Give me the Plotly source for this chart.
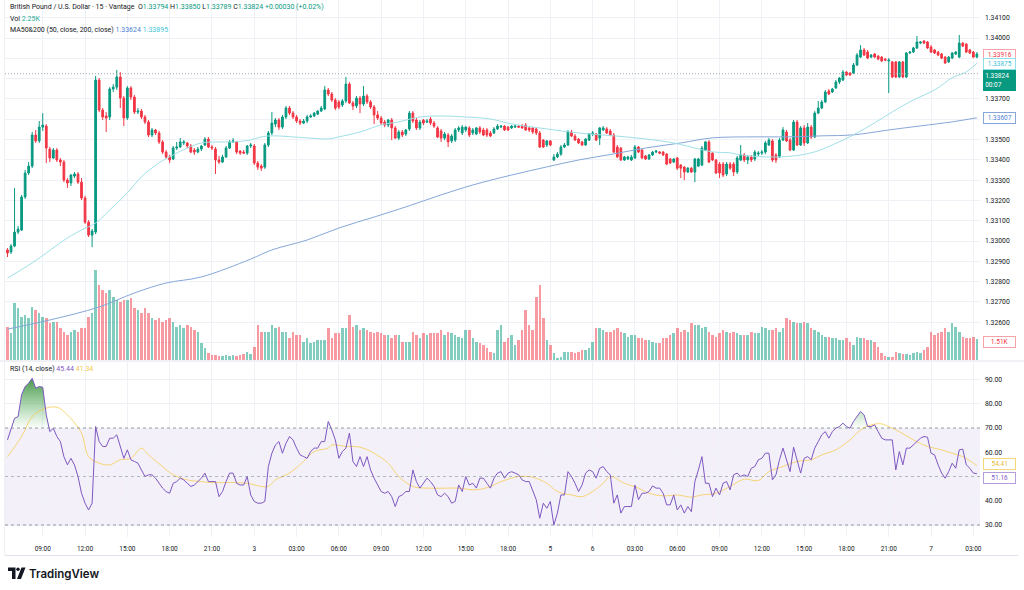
import plotly.graph_objects as go

# ---------------- data ----------------
tick_index = [10, 22, 34, 46, 58, 70, 82, 94, 106, 118, 130, 142, 154, 166, 178, 190, 202, 214, 226, 238, 250, 262, 274]
tick_labels = ["09:00", "12:00", "15:00", "18:00", "21:00", "3", "03:00", "06:00", "09:00", "12:00", "15:00",
               "18:00", "5", "6", "03:00", "06:00", "09:00", "12:00", "15:00", "18:00", "21:00", "7", "03:00"]
price_ticks = [1.325, 1.326, 1.327, 1.328, 1.329, 1.330, 1.331, 1.332, 1.333, 1.334, 1.335, 1.336, 1.337, 1.338, 1.339, 1.340, 1.341]
price_tick_text = ["", "1.32600", "1.32700", "1.32800", "1.32900", "1.33000", "1.33100", "1.33200", "1.33300",
                   "1.33400", "1.33500", "", "1.33700", "", "", "1.34000", "1.34100"]
rsi_ticks = [30, 40, 50, 60, 70, 80, 90]
rsi_tick_text = ["30.00", "40.00", "", "60.00", "70.00", "80.00", "90.00"]

opens = [
 1.32956, 1.32946, 1.32975, 1.33044, 1.33054, 1.33217, 1.33335, 1.33369, 1.33522, 1.33493,
 1.33561, 1.33566, 1.33453, 1.33409, 1.33448, 1.33399, 1.33389, 1.33300, 1.33286, 1.33320,
 1.33330, 1.33290, 1.33212, 1.33093, 1.33029, 1.33044, 1.33793, 1.33645, 1.33616, 1.33611,
 1.33749, 1.33758, 1.33808, 1.33704, 1.33606, 1.33754, 1.33709, 1.33635, 1.33640, 1.33611,
 1.33586, 1.33522, 1.33547, 1.33532, 1.33488, 1.33438, 1.33414, 1.33404, 1.33458, 1.33463,
 1.33483, 1.33483, 1.33468, 1.33448, 1.33438, 1.33453, 1.33473, 1.33502, 1.33463, 1.33453,
 1.33399, 1.33389, 1.33414, 1.33458, 1.33488, 1.33488, 1.33443, 1.33438, 1.33433, 1.33468,
 1.33468, 1.33384, 1.33369, 1.33364, 1.33473, 1.33532, 1.33576, 1.33596, 1.33561, 1.33611,
 1.33655, 1.33630, 1.33611, 1.33591, 1.33581, 1.33591, 1.33611, 1.33616, 1.33625, 1.33640,
 1.33650, 1.33744, 1.33724, 1.33694, 1.33685, 1.33670, 1.33690, 1.33773, 1.33680, 1.33665,
 1.33704, 1.33675, 1.33714, 1.33685, 1.33660, 1.33621, 1.33606, 1.33586, 1.33571, 1.33596,
 1.33557, 1.33507, 1.33537, 1.33527, 1.33552, 1.33630, 1.33596, 1.33557, 1.33596, 1.33586,
 1.33601, 1.33581, 1.33557, 1.33542, 1.33507, 1.33522, 1.33493, 1.33497, 1.33547, 1.33532,
 1.33547, 1.33557, 1.33532, 1.33527, 1.33557, 1.33547, 1.33547, 1.33532, 1.33532, 1.33552,
 1.33561, 1.33566, 1.33561, 1.33557, 1.33561, 1.33566, 1.33566, 1.33571, 1.33557, 1.33557,
 1.33552, 1.33532, 1.33497, 1.33473, 1.33493, 1.33399, 1.33414, 1.33428, 1.33463, 1.33473,
 1.33537, 1.33517, 1.33502, 1.33488, 1.33473, 1.33497, 1.33527, 1.33527, 1.33507, 1.33547,
 1.33552, 1.33542, 1.33522, 1.33463, 1.33458, 1.33399, 1.33404, 1.33399, 1.33409, 1.33463,
 1.33448, 1.33419, 1.33404, 1.33424, 1.33438, 1.33438, 1.33438, 1.33428, 1.33404, 1.33389,
 1.33409, 1.33374, 1.33364, 1.33340, 1.33359, 1.33340, 1.33369, 1.33374, 1.33448, 1.33488,
 1.33433, 1.33399, 1.33379, 1.33379, 1.33330, 1.33379, 1.33379, 1.33340, 1.33399, 1.33424,
 1.33399, 1.33414, 1.33404, 1.33428, 1.33433, 1.33438, 1.33473, 1.33493, 1.33424, 1.33414,
 1.33497, 1.33537, 1.33497, 1.33448, 1.33586, 1.33473, 1.33557, 1.33483, 1.33561, 1.33512,
 1.33630, 1.33655, 1.33685, 1.33739, 1.33734, 1.33754, 1.33783, 1.33793, 1.33832, 1.33827,
 1.33827, 1.33867, 1.33906, 1.33941, 1.33931, 1.33906, 1.33921, 1.33911, 1.33906, 1.33896,
 1.33887, 1.33882, 1.33882, 1.33808, 1.33882, 1.33808, 1.33926, 1.33931, 1.33951, 1.33975,
 1.33985, 1.33980, 1.33956, 1.33941, 1.33931, 1.33921, 1.33906, 1.33882, 1.33901, 1.33921,
 1.33906, 1.33975, 1.33970, 1.33941, 1.33931, 1.33906]

highs = [
 1.32965, 1.32985, 1.33261, 1.33074, 1.33227, 1.33350, 1.33389, 1.33537, 1.33547, 1.33591,
 1.33630, 1.33576, 1.33463, 1.33458, 1.33458, 1.33409, 1.33399, 1.33310, 1.33330, 1.33340,
 1.33340, 1.33310, 1.33222, 1.33103, 1.33059, 1.33813, 1.33803, 1.33655, 1.33635, 1.33758,
 1.33773, 1.33842, 1.33832, 1.33714, 1.33763, 1.33763, 1.33719, 1.33655, 1.33650, 1.33621,
 1.33596, 1.33557, 1.33552, 1.33542, 1.33497, 1.33448, 1.33424, 1.33468, 1.33488, 1.33507,
 1.33497, 1.33488, 1.33478, 1.33458, 1.33463, 1.33473, 1.33512, 1.33512, 1.33473, 1.33463,
 1.33419, 1.33424, 1.33468, 1.33497, 1.33507, 1.33493, 1.33448, 1.33448, 1.33473, 1.33483,
 1.33478, 1.33394, 1.33379, 1.33483, 1.33542, 1.33635, 1.33606, 1.33606, 1.33621, 1.33665,
 1.33665, 1.33640, 1.33621, 1.33601, 1.33601, 1.33621, 1.33625, 1.33635, 1.33645, 1.33665,
 1.33763, 1.33754, 1.33734, 1.33704, 1.33694, 1.33699, 1.33808, 1.33783, 1.33690, 1.33714,
 1.33714, 1.33763, 1.33724, 1.33694, 1.33670, 1.33640, 1.33616, 1.33596, 1.33601, 1.33606,
 1.33566, 1.33547, 1.33547, 1.33552, 1.33640, 1.33640, 1.33606, 1.33596, 1.33601, 1.33601,
 1.33611, 1.33591, 1.33566, 1.33552, 1.33537, 1.33532, 1.33527, 1.33557, 1.33566, 1.33571,
 1.33566, 1.33566, 1.33557, 1.33561, 1.33566, 1.33557, 1.33557, 1.33542, 1.33561, 1.33576,
 1.33571, 1.33571, 1.33566, 1.33571, 1.33571, 1.33571, 1.33576, 1.33581, 1.33561, 1.33561,
 1.33557, 1.33542, 1.33502, 1.33497, 1.33497, 1.33428, 1.33438, 1.33473, 1.33483, 1.33547,
 1.33547, 1.33527, 1.33507, 1.33493, 1.33507, 1.33532, 1.33542, 1.33532, 1.33561, 1.33566,
 1.33561, 1.33552, 1.33532, 1.33473, 1.33463, 1.33419, 1.33419, 1.33424, 1.33473, 1.33468,
 1.33453, 1.33424, 1.33428, 1.33443, 1.33448, 1.33443, 1.33443, 1.33433, 1.33409, 1.33409,
 1.33414, 1.33379, 1.33369, 1.33364, 1.33364, 1.33409, 1.33409, 1.33468, 1.33493, 1.33497,
 1.33438, 1.33404, 1.33389, 1.33389, 1.33389, 1.33389, 1.33389, 1.33419, 1.33473, 1.33433,
 1.33424, 1.33424, 1.33448, 1.33443, 1.33448, 1.33493, 1.33507, 1.33502, 1.33433, 1.33507,
 1.33561, 1.33547, 1.33507, 1.33596, 1.33596, 1.33566, 1.33571, 1.33581, 1.33571, 1.33640,
 1.33690, 1.33694, 1.33744, 1.33749, 1.33754, 1.33793, 1.33808, 1.33842, 1.33837, 1.33832,
 1.33877, 1.33926, 1.33965, 1.33951, 1.33941, 1.33921, 1.33926, 1.33916, 1.33911, 1.33901,
 1.33901, 1.33887, 1.33887, 1.33887, 1.33887, 1.33931, 1.33936, 1.33956, 1.34010, 1.33985,
 1.33990, 1.33985, 1.33965, 1.33946, 1.33936, 1.33926, 1.33911, 1.33911, 1.33931, 1.33936,
 1.34015, 1.33980, 1.33975, 1.33946, 1.33936, 1.33931]

lows = [
 1.32921, 1.32936, 1.32970, 1.33034, 1.33049, 1.33207, 1.33325, 1.33359, 1.33483, 1.33483,
 1.33542, 1.33384, 1.33389, 1.33404, 1.33389, 1.33369, 1.33290, 1.33261, 1.33271, 1.33310,
 1.33281, 1.33202, 1.33084, 1.33020, 1.32970, 1.33034, 1.33635, 1.33596, 1.33537, 1.33596,
 1.33734, 1.33744, 1.33655, 1.33566, 1.33596, 1.33694, 1.33625, 1.33625, 1.33601, 1.33576,
 1.33512, 1.33512, 1.33522, 1.33478, 1.33428, 1.33404, 1.33384, 1.33399, 1.33448, 1.33458,
 1.33473, 1.33458, 1.33433, 1.33424, 1.33433, 1.33443, 1.33468, 1.33458, 1.33448, 1.33330,
 1.33379, 1.33384, 1.33409, 1.33453, 1.33483, 1.33428, 1.33424, 1.33428, 1.33424, 1.33458,
 1.33374, 1.33350, 1.33345, 1.33355, 1.33463, 1.33522, 1.33561, 1.33547, 1.33552, 1.33601,
 1.33621, 1.33601, 1.33581, 1.33571, 1.33576, 1.33581, 1.33606, 1.33611, 1.33621, 1.33635,
 1.33645, 1.33714, 1.33685, 1.33645, 1.33650, 1.33660, 1.33680, 1.33675, 1.33645, 1.33655,
 1.33630, 1.33665, 1.33675, 1.33650, 1.33576, 1.33596, 1.33571, 1.33561, 1.33561, 1.33497,
 1.33502, 1.33497, 1.33512, 1.33517, 1.33542, 1.33581, 1.33547, 1.33547, 1.33571, 1.33581,
 1.33571, 1.33557, 1.33507, 1.33488, 1.33497, 1.33463, 1.33483, 1.33488, 1.33537, 1.33522,
 1.33537, 1.33512, 1.33522, 1.33522, 1.33527, 1.33517, 1.33512, 1.33512, 1.33527, 1.33547,
 1.33557, 1.33542, 1.33542, 1.33552, 1.33557, 1.33557, 1.33552, 1.33542, 1.33537, 1.33527,
 1.33522, 1.33458, 1.33458, 1.33463, 1.33468, 1.33394, 1.33409, 1.33419, 1.33458, 1.33468,
 1.33512, 1.33493, 1.33478, 1.33468, 1.33468, 1.33493, 1.33517, 1.33493, 1.33473, 1.33542,
 1.33527, 1.33517, 1.33433, 1.33409, 1.33394, 1.33394, 1.33399, 1.33394, 1.33404, 1.33433,
 1.33404, 1.33399, 1.33399, 1.33419, 1.33433, 1.33428, 1.33419, 1.33374, 1.33379, 1.33384,
 1.33350, 1.33310, 1.33300, 1.33335, 1.33335, 1.33290, 1.33364, 1.33369, 1.33443, 1.33384,
 1.33394, 1.33330, 1.33310, 1.33315, 1.33320, 1.33350, 1.33320, 1.33330, 1.33394, 1.33389,
 1.33379, 1.33389, 1.33394, 1.33419, 1.33424, 1.33428, 1.33468, 1.33389, 1.33384, 1.33409,
 1.33493, 1.33488, 1.33443, 1.33443, 1.33468, 1.33468, 1.33468, 1.33478, 1.33502, 1.33507,
 1.33625, 1.33650, 1.33680, 1.33719, 1.33729, 1.33749, 1.33773, 1.33788, 1.33813, 1.33813,
 1.33823, 1.33862, 1.33901, 1.33911, 1.33896, 1.33901, 1.33901, 1.33891, 1.33882, 1.33887,
 1.33729, 1.33803, 1.33803, 1.33803, 1.33803, 1.33803, 1.33921, 1.33926, 1.33946, 1.33970,
 1.33970, 1.33946, 1.33926, 1.33921, 1.33911, 1.33896, 1.33872, 1.33877, 1.33896, 1.33916,
 1.33901, 1.33956, 1.33926, 1.33921, 1.33901, 1.33901]

closes = [
 1.32941, 1.32975, 1.33044, 1.33059, 1.33217, 1.33335, 1.33369, 1.33522, 1.33493, 1.33561,
 1.33571, 1.33458, 1.33409, 1.33448, 1.33399, 1.33389, 1.33300, 1.33286, 1.33325, 1.33330,
 1.33290, 1.33212, 1.33093, 1.33029, 1.33049, 1.33793, 1.33645, 1.33611, 1.33606, 1.33749,
 1.33758, 1.33808, 1.33704, 1.33606, 1.33754, 1.33709, 1.33635, 1.33640, 1.33611, 1.33586,
 1.33522, 1.33547, 1.33532, 1.33488, 1.33438, 1.33414, 1.33399, 1.33458, 1.33463, 1.33488,
 1.33488, 1.33468, 1.33438, 1.33438, 1.33453, 1.33468, 1.33502, 1.33463, 1.33458, 1.33399,
 1.33389, 1.33414, 1.33458, 1.33488, 1.33493, 1.33438, 1.33433, 1.33433, 1.33468, 1.33473,
 1.33384, 1.33364, 1.33359, 1.33473, 1.33532, 1.33581, 1.33596, 1.33561, 1.33611, 1.33655,
 1.33630, 1.33611, 1.33591, 1.33581, 1.33591, 1.33611, 1.33616, 1.33630, 1.33640, 1.33655,
 1.33744, 1.33724, 1.33694, 1.33655, 1.33660, 1.33690, 1.33773, 1.33680, 1.33665, 1.33704,
 1.33675, 1.33714, 1.33685, 1.33660, 1.33621, 1.33606, 1.33581, 1.33571, 1.33596, 1.33557,
 1.33507, 1.33537, 1.33522, 1.33547, 1.33630, 1.33591, 1.33557, 1.33586, 1.33581, 1.33591,
 1.33581, 1.33566, 1.33512, 1.33507, 1.33527, 1.33488, 1.33517, 1.33547, 1.33557, 1.33561,
 1.33561, 1.33522, 1.33547, 1.33557, 1.33537, 1.33522, 1.33522, 1.33517, 1.33552, 1.33566,
 1.33566, 1.33547, 1.33547, 1.33566, 1.33566, 1.33561, 1.33557, 1.33547, 1.33547, 1.33537,
 1.33532, 1.33463, 1.33463, 1.33493, 1.33473, 1.33414, 1.33428, 1.33463, 1.33473, 1.33537,
 1.33517, 1.33497, 1.33483, 1.33473, 1.33502, 1.33527, 1.33532, 1.33497, 1.33557, 1.33557,
 1.33532, 1.33522, 1.33438, 1.33414, 1.33399, 1.33414, 1.33414, 1.33414, 1.33463, 1.33438,
 1.33409, 1.33404, 1.33424, 1.33438, 1.33443, 1.33433, 1.33424, 1.33379, 1.33384, 1.33404,
 1.33359, 1.33359, 1.33340, 1.33359, 1.33340, 1.33404, 1.33404, 1.33458, 1.33488, 1.33389,
 1.33399, 1.33335, 1.33335, 1.33325, 1.33379, 1.33359, 1.33340, 1.33409, 1.33424, 1.33399,
 1.33414, 1.33399, 1.33438, 1.33433, 1.33438, 1.33483, 1.33497, 1.33399, 1.33399, 1.33497,
 1.33547, 1.33493, 1.33448, 1.33586, 1.33473, 1.33557, 1.33483, 1.33561, 1.33512, 1.33630,
 1.33655, 1.33685, 1.33734, 1.33724, 1.33749, 1.33783, 1.33803, 1.33832, 1.33818, 1.33818,
 1.33867, 1.33916, 1.33941, 1.33916, 1.33901, 1.33916, 1.33906, 1.33896, 1.33887, 1.33891,
 1.33891, 1.33808, 1.33808, 1.33882, 1.33808, 1.33926, 1.33931, 1.33951, 1.33980, 1.33980,
 1.33975, 1.33951, 1.33931, 1.33926, 1.33916, 1.33901, 1.33877, 1.33906, 1.33926, 1.33931,
 1.33975, 1.33960, 1.33931, 1.33926, 1.33906, 1.33921]

volume_k = [
 2.36, 1.93, 4.07, 3.71, 3.07, 3.21, 3.00, 3.79, 3.57, 3.36,
 3.07, 3.00, 2.64, 2.71, 2.71, 2.29, 2.00, 1.79, 2.00, 2.14,
 2.00, 2.29, 2.29, 3.07, 3.36, 6.43, 5.36, 5.00, 4.79, 5.00,
 4.50, 4.29, 4.14, 4.29, 4.29, 4.43, 3.71, 3.57, 3.36, 3.71,
 3.36, 3.00, 2.86, 3.00, 2.71, 2.86, 3.00, 2.71, 2.36, 2.50,
 2.29, 2.50, 2.36, 2.14, 2.00, 1.21, 0.86, 0.50, 0.36, 0.36,
 0.29, 0.29, 0.36, 0.29, 0.36, 0.29, 0.36, 0.43, 0.57, 0.43,
 0.93, 2.50, 2.00, 2.00, 2.00, 2.50, 2.29, 2.36, 2.00, 2.00,
 1.57, 2.00, 1.79, 1.79, 1.29, 1.57, 1.21, 1.29, 1.43, 1.43,
 1.43, 2.29, 1.57, 1.93, 1.93, 2.29, 2.29, 3.21, 2.36, 2.50,
 2.14, 2.29, 2.14, 2.00, 1.93, 2.00, 1.93, 1.79, 1.79, 1.57,
 1.79, 1.79, 1.29, 1.29, 1.29, 2.00, 1.79, 1.57, 1.93, 1.79,
 1.93, 1.93, 1.93, 2.14, 1.79, 2.00, 1.93, 1.79, 1.64, 1.57,
 2.14, 2.14, 1.57, 1.29, 1.21, 1.07, 0.86, 0.57, 0.50, 2.14,
 2.50, 1.29, 1.57, 1.79, 1.07, 1.43, 2.14, 3.57, 2.50, 2.14,
 4.50, 5.36, 3.00, 1.43, 1.07, 0.50, 0.14, 0.21, 0.57, 0.57,
 0.57, 0.50, 0.57, 0.71, 0.71, 0.86, 1.29, 2.29, 2.29, 2.14,
 2.00, 2.00, 2.14, 2.29, 2.00, 1.93, 1.64, 1.79, 1.79, 1.57,
 1.57, 1.43, 1.43, 1.29, 1.21, 1.21, 1.57, 1.57, 1.79, 1.93,
 2.29, 2.00, 2.14, 2.00, 2.64, 2.50, 2.50, 2.29, 2.36, 2.00,
 1.79, 1.64, 1.93, 2.14, 2.00, 1.93, 2.00, 1.93, 1.79, 1.79,
 1.79, 2.00, 1.93, 1.93, 2.36, 2.29, 2.14, 2.14, 2.29, 2.00,
 2.29, 3.00, 2.86, 2.71, 2.64, 2.64, 2.71, 2.64, 2.29, 2.14,
 2.00, 1.79, 1.64, 1.64, 1.57, 1.57, 1.43, 1.43, 1.57, 1.29,
 1.07, 1.64, 1.57, 1.57, 1.43, 1.43, 1.29, 0.93, 0.50, 0.29,
 0.21, 0.21, 0.57, 0.50, 0.43, 0.43, 0.36, 0.50, 0.57, 0.50,
 0.71, 0.93, 2.00, 1.79, 1.93, 2.00, 2.29, 2.00, 2.64, 2.36,
 2.00, 1.64, 1.57, 1.57, 1.64, 1.51]

rsi = [
 65.1, 69.2, 74.0, 74.7, 83.7, 87.1, 88.5, 90.5, 86.4, 87.1,
 86.8, 75.4, 68.5, 69.9, 66.5, 64.4, 58.2, 54.8, 57.5, 54.8,
 50.0, 43.1, 39.0, 36.2, 39.0, 70.6, 64.4, 62.4, 62.4, 65.8,
 65.8, 67.2, 62.4, 57.5, 61.0, 56.9, 56.2, 55.5, 52.7, 50.0,
 50.7, 50.7, 49.3, 47.2, 45.2, 43.8, 43.1, 47.2, 47.9, 49.3,
 48.6, 47.2, 45.9, 46.5, 47.9, 49.3, 51.4, 47.9, 47.9, 47.9,
 41.7, 43.8, 47.9, 51.4, 51.4, 47.2, 46.5, 46.5, 50.0, 42.4,
 39.7, 39.0, 39.0, 39.7, 54.1, 59.6, 63.0, 64.4, 59.6, 63.7,
 66.5, 65.1, 61.7, 58.9, 58.2, 57.5, 60.3, 61.7, 61.7, 64.4,
 64.4, 72.7, 69.2, 65.1, 57.5, 60.3, 61.7, 67.9, 56.2, 54.1,
 58.2, 54.1, 58.2, 52.7, 49.3, 46.5, 43.8, 43.1, 43.8, 41.7,
 37.6, 41.7, 42.4, 43.8, 43.8, 52.7, 47.9, 45.2, 47.2, 49.3,
 47.9, 45.9, 42.4, 41.7, 43.1, 41.7, 39.0, 39.7, 46.5, 43.8,
 50.0, 46.5, 47.2, 45.2, 49.3, 49.3, 47.2, 45.2, 49.3, 51.4,
 52.0, 49.3, 51.4, 52.0, 51.4, 50.7, 48.6, 47.9, 47.9, 43.8,
 40.4, 32.8, 39.0, 36.9, 39.7, 30.0, 34.9, 42.4, 42.4, 52.0,
 50.0, 47.2, 43.8, 46.5, 51.4, 52.7, 52.0, 49.3, 53.4, 54.1,
 52.0, 50.7, 39.0, 42.4, 34.9, 37.6, 37.6, 37.6, 46.5, 40.4,
 43.1, 43.1, 43.8, 46.1, 45.2, 45.2, 43.1, 38.3, 38.3, 42.4,
 36.2, 38.3, 34.9, 37.6, 35.5, 47.9, 52.7, 58.2, 47.2, 47.2,
 41.7, 45.2, 42.4, 47.2, 47.9, 44.5, 50.7, 51.4, 50.0, 50.7,
 50.0, 53.4, 54.1, 56.9, 57.5, 59.6, 59.6, 48.6, 50.7, 56.9,
 61.7, 56.9, 52.0, 62.1, 56.9, 51.4, 57.5, 58.2, 56.9, 61.7,
 64.4, 67.2, 68.5, 65.8, 68.5, 69.9, 70.6, 72.0, 70.6, 69.9,
 72.7, 74.7, 76.8, 75.4, 70.6, 70.6, 71.3, 68.5, 65.8, 65.1,
 65.1, 65.1, 52.7, 60.3, 54.8, 61.7, 61.7, 63.0, 64.4, 65.8,
 66.5, 66.2, 59.6, 58.9, 54.8, 51.4, 49.3, 52.0, 55.5, 53.4,
 61.0, 61.3, 54.8, 53.4, 51.4, 51.16]

rsi_ma_index = [0, 4, 7, 10, 14, 17, 21, 23, 26, 29, 32, 35, 38, 40, 44, 47, 51, 55, 58, 64,
                68, 72, 74, 76, 80, 84, 87, 91, 92, 96, 100, 104, 108, 111, 115, 119, 124, 128, 133, 137,
                140, 143, 145, 149, 153, 156, 160, 163, 166, 169, 171, 175, 179, 182, 186, 190, 194, 197, 201, 205,
                209, 213, 216, 220, 224, 228, 231, 235, 239, 242, 245, 248, 250, 253, 257, 261, 265, 268, 271, 274, 275]
rsi_ma = [58.2, 66.5, 74.7, 77.7, 78.6, 75.4, 67.9, 58.2, 55.5, 54.8, 56.9, 57.5, 61.7, 58.9, 54.1, 50.7, 48.6, 47.9, 47.5, 47.5,
          47.2, 45.9, 45.9, 48.6, 51.4, 56.2, 60.3, 61.7, 63.0, 62.4, 62.1, 59.6, 55.5, 50.0, 45.9, 45.2, 45.2, 45.2, 44.5, 45.9,
          47.9, 49.3, 50.0, 49.7, 47.2, 43.8, 42.4, 41.7, 43.8, 47.2, 50.0, 47.2, 45.2, 43.1, 42.0, 42.4, 41.5, 42.4, 43.1, 45.9,
          48.9, 48.3, 52.0, 54.1, 56.2, 56.9, 58.9, 61.0, 65.1, 69.2, 71.3, 71.7, 70.6, 68.5, 65.1, 62.4, 61.0, 59.6, 58.2, 55.5, 54.41]

ma50_index = [0, 7, 17, 21, 25, 29, 34, 38, 43, 47, 51, 55, 59, 64, 69, 72, 75, 85, 91, 94,
              100, 106, 111, 117, 123, 130, 137, 143, 153, 162, 172, 181, 189, 196, 200, 205, 208, 216, 223, 229,
              234, 240, 246, 251, 257, 263, 268, 272, 275]
ma50 = [1.32818, 1.32892, 1.33015, 1.33054, 1.33089, 1.33153, 1.33237, 1.33316, 1.33385, 1.33424,
        1.33458, 1.33483, 1.33488, 1.33488, 1.33498, 1.33513, 1.33518, 1.33508, 1.33503, 1.33513,
        1.33537, 1.33572, 1.33587, 1.33611, 1.33616, 1.33611, 1.33601, 1.33577, 1.33552, 1.33532,
        1.33518, 1.33503, 1.33483, 1.33454, 1.33439, 1.33434, 1.33424, 1.33414, 1.33419, 1.33439,
        1.33473, 1.33523, 1.33582, 1.33636, 1.33695, 1.33744, 1.33804, 1.33833, 1.33875]

ma200_index = [0, 12, 26, 36, 45, 55, 69, 75, 85, 94, 104, 113, 123, 132, 143, 153, 162, 172, 181, 191,
               200, 212, 221, 231, 240, 250, 259, 268, 275]
ma200 = [1.32566, 1.32611, 1.32675, 1.32744, 1.32793, 1.32823, 1.32911, 1.32956, 1.33005, 1.33064,
         1.33118, 1.33168, 1.33227, 1.33276, 1.33325, 1.33365, 1.33399, 1.33429, 1.33458, 1.33483,
         1.33508, 1.33513, 1.33513, 1.33518, 1.33523, 1.33547, 1.33567, 1.33587, 1.33607]

last_price = 1.33824

# ---------------- styling / layout ----------------
UP = "#089981"
DN = "#F23645"
GRID = "#eef1f6"
TXT = "#131722"
FONT = "Roboto"
W, H = 1024, 590
ML, MR, MT, MB = 5, 44, 0, 53
PW, PH = W - ML - MR, H - MT - MB


def fx(px):
    return (px - ML) / PW


def fy(py):
    return 1 - (py - MT) / PH


N = len(closes)
idx = list(range(N))
vol_colors = ["rgba(8,153,129,0.5)" if c >= o else "rgba(242,54,69,0.5)" for o, c in zip(opens, closes)]

fig = go.Figure()

fig.add_trace(go.Bar(x=idx, y=volume_k, yaxis="y", marker=dict(color=vol_colors, line=dict(width=0)),
                     width=0.72, hoverinfo="skip", showlegend=False))

fig.add_trace(go.Scatter(x=ma200_index, y=ma200, yaxis="y3", mode="lines",
                         line=dict(color="#86a7d8", width=1, shape="spline", smoothing=1.0),
                         hoverinfo="skip", showlegend=False))
fig.add_trace(go.Scatter(x=ma50_index, y=ma50, yaxis="y3", mode="lines",
                         line=dict(color="#9fe0e8", width=1, shape="spline", smoothing=1.0),
                         hoverinfo="skip", showlegend=False))

fig.add_trace(go.Candlestick(x=idx, open=opens, high=highs, low=lows, close=closes, yaxis="y3",
                             increasing=dict(line=dict(color=UP, width=1), fillcolor=UP),
                             decreasing=dict(line=dict(color=DN, width=1), fillcolor=DN),
                             whiskerwidth=0, hoverinfo="skip", showlegend=False))

# RSI overbought gradient fill
fig.add_trace(go.Scatter(x=idx, y=[70] * N, yaxis="y2", mode="lines", line=dict(width=0, color="rgba(0,0,0,0)"),
                         hoverinfo="skip", showlegend=False))
fig.add_trace(go.Scatter(x=idx, y=[max(v, 70) for v in rsi], yaxis="y2", mode="lines",
                         line=dict(width=0, color="rgba(0,0,0,0)"), fill="tonexty",
                         fillgradient=dict(type="vertical", start=70, stop=91,
                                           colorscale=[[0, "rgba(76,175,80,0.02)"], [1, "rgba(56,142,60,0.95)"]]),
                         hoverinfo="skip", showlegend=False))
fig.add_trace(go.Scatter(x=rsi_ma_index, y=rsi_ma, yaxis="y2", mode="lines",
                         line=dict(color="rgba(247,201,72,0.75)", width=1, shape="spline", smoothing=1.0),
                         hoverinfo="skip", showlegend=False))
fig.add_trace(go.Scatter(x=idx, y=rsi, yaxis="y2", mode="lines", line=dict(color="#7E57C2", width=1),
                         hoverinfo="skip", showlegend=False))

xr = [(ML - 7.5) / 3.525, (ML + PW - 7.5) / 3.525]
price_range = [1.341872 - 360 * 0.00004926, 1.341872]
rsi_range = [30 - 12 / 2.425, 30 + 163 / 2.425]

DASH = "3px,3px"
shapes = [
    dict(type="rect", xref="paper", yref="y2", x0=0, x1=1, y0=30, y1=70, fillcolor="rgba(126,87,194,0.09)",
         line=dict(width=0), layer="below"),
    dict(type="line", xref="paper", yref="y2", x0=0, x1=1, y0=70, y1=70,
         line=dict(color="rgba(120,123,134,0.75)", width=1, dash=DASH)),
    dict(type="line", xref="paper", yref="y2", x0=0, x1=1, y0=50, y1=50,
         line=dict(color="rgba(120,123,134,0.5)", width=1, dash=DASH)),
    dict(type="line", xref="paper", yref="y2", x0=0, x1=1, y0=30, y1=30,
         line=dict(color="rgba(120,123,134,0.75)", width=1, dash=DASH)),
    dict(type="line", xref="paper", yref="y3", x0=0, x1=1, y0=last_price, y1=last_price,
         line=dict(color="#a3a6af", width=1, dash="1px,2px")),
    dict(type="line", xref="paper", yref="paper", x0=fx(0), x1=fx(1024), y0=fy(361), y1=fy(361),
         line=dict(color="#e0e3eb", width=1)),
    dict(type="line", xref="paper", yref="paper", x0=fx(5), x1=fx(1018), y0=fy(555.5), y1=fy(555.5),
         line=dict(color="#e0e3eb", width=1)),
    dict(type="line", xref="paper", yref="paper", x0=fx(4.5), x1=fx(4.5), y0=fy(0), y1=fy(555.5),
         line=dict(color="#eef0f4", width=1)),
]

# TradingView logo glyph
def path(points):
    return "M " + " L ".join(f"{fx(a):.5f},{fy(b):.5f}" for a, b in points) + " Z"


shapes += [
    dict(type="path", xref="paper", yref="paper", path=path([(8, 567.5), (15.5, 567.5), (15.5, 579), (12, 579),
                                                              (12, 571), (8, 571)]),
         fillcolor=TXT, line=dict(width=0)),
    dict(type="circle", xref="paper", yref="paper", x0=fx(16.3), x1=fx(19.7), y0=fy(567.5), y1=fy(570.9),
         fillcolor=TXT, line=dict(width=0)),
    dict(type="path", xref="paper", yref="paper", path=path([(21.5, 567.5), (25.5, 567.5), (21, 579), (17, 579)]),
         fillcolor=TXT, line=dict(width=0)),
]

G = "#089981"
header1 = (f"British Pound / U.S. Dollar · 15 · Vantage  O<span style='color:{G}'>1.33794</span> "
           f"H<span style='color:{G}'>1.33850</span> L<span style='color:{G}'>1.33789</span> "
           f"C<span style='color:{G}'>1.33824</span> <span style='color:{G}'>+0.00030 (+0.02%)</span>")
annotations = [
    dict(x=fx(8), y=fy(7), xref="paper", yref="paper", text=header1, showarrow=False, xanchor="left",
         yanchor="middle", font=dict(size=7, color=TXT, family=FONT)),
    dict(x=fx(8), y=fy(19), xref="paper", yref="paper", text="Vol <span style='color:#22ab94'>2.25K</span>",
         showarrow=False, xanchor="left", yanchor="middle", font=dict(size=7, color=TXT, family=FONT)),
    dict(x=fx(8), y=fy(30), xref="paper", yref="paper",
         text="MA50&amp;200 (50, close, 200, close) <span style='color:#4c7fd4'>1.33624</span> "
              "<span style='color:#3fc4d6'>1.33895</span>",
         showarrow=False, xanchor="left", yanchor="middle", font=dict(size=7, color=TXT, family=FONT)),
    dict(x=fx(8), y=fy(369), xref="paper", yref="paper",
         text="RSI (14, close) <span style='color:#7E57C2'>45.44</span> <span style='color:#f2c94c'>41.34</span>",
         showarrow=False, xanchor="left", yanchor="middle", font=dict(size=7, color=TXT, family=FONT)),
    dict(x=fx(27), y=fy(573.5), xref="paper", yref="paper", text="TradingView", showarrow=False,
         xanchor="left", yanchor="middle", font=dict(size=11.5, color=TXT, family="Inter", weight=600)),
]


def box(y, text, fg, bg, border, yref="y3", yanchor="middle", yshift=0, align="center"):
    return dict(x=fx(983), y=y, xref="paper", yref=yref, text=text, showarrow=False, xanchor="left",
                yanchor=yanchor, yshift=yshift, width=29, align=align,
                font=dict(size=6.5, color=fg, family=FONT), bgcolor=bg, bordercolor=border,
                borderwidth=1, borderpad=1.2)


annotations += [
    box(1.33916, "1.33916", DN, "white", "#f7a1a8"),
    box(1.33875, "1.33875", "#3fc4d6", "white", "#8fe0ea", yshift=-1),
    box(last_price, "1.33824<br>00:07", "white", UP, UP, yanchor="top", yshift=4, align="left"),
    box(1.33607, "1.33607", "#4c7fd4", "white", "#86a7d8"),
    box(volume_k[-1], "1.51K", DN, "white", "#f7a1a8", yref="y", yshift=-3),
    box(54.41, "54.41", "#e9b93b", "white", "#f5d77a", yref="y2", yshift=2),
    box(51.16, "51.16", "#7E57C2", "white", "#b39ddb", yref="y2", yshift=-4),
]

fig.update_layout(
    width=W, height=H, margin=dict(l=ML, r=MR, t=MT, b=MB),
    paper_bgcolor="white", plot_bgcolor="white", showlegend=False, bargap=0,
    font=dict(family=FONT, color=TXT),
    xaxis=dict(domain=[0, 1], range=xr, anchor="y2", tickmode="array", tickvals=tick_index, ticktext=tick_labels,
               showgrid=True, gridcolor=GRID, gridwidth=1, zeroline=False, showline=False, ticks="",
               ticklabelstandoff=6,
               tickfont=dict(size=6.5, color=TXT, family=FONT), rangeslider=dict(visible=False), fixedrange=True),
    yaxis=dict(domain=[fy(360), 1], range=[0, 360 / 14], visible=False, fixedrange=True),
    yaxis3=dict(overlaying="y", side="right", anchor="x", range=price_range, tickmode="array", tickvals=price_ticks,
                ticktext=price_tick_text, showgrid=True, gridcolor=GRID, zeroline=False, showline=False, ticks="",
                ticklabelstandoff=4,
                tickfont=dict(size=6.8, color=TXT, family=FONT), fixedrange=True),
    yaxis2=dict(domain=[0, fy(362)], range=rsi_range, side="right", anchor="x", tickmode="array",
                tickvals=rsi_ticks, ticktext=rsi_tick_text, showgrid=True, gridcolor=GRID, zeroline=False,
                showline=False, ticks="", ticklabelstandoff=4,
                tickfont=dict(size=6.8, color=TXT, family=FONT), fixedrange=True),
    shapes=shapes, annotations=annotations,
)

fig.write_html("out.html")
